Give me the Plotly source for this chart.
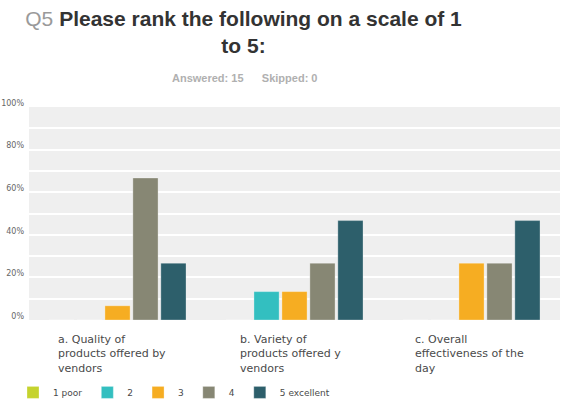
import plotly.graph_objects as go

categories = ["a. Quality of<br>products offered by<br>vendors",
              "b. Variety of<br>products offered y<br>vendors",
              "c. Overall<br>effectiveness of the<br>day"]
series_names = ["1 poor", "2", "3", "4", "5 excellent"]
values = {
    "1 poor":      [0.0, 0.0, 0.0],
    "2":           [0.0, 0.1333, 0.0],
    "3":           [0.0667, 0.1333, 0.2667],
    "4":           [0.6667, 0.2667, 0.2667],
    "5 excellent": [0.2667, 0.4667, 0.4667],
}
colors = ["#c5d32e", "#33bfc0", "#f6ad22", "#878774", "#2d5f6b"]
label_x = [0.051, 0.394, 0.7226]  # paper positions for left-aligned x labels

fig = go.Figure()
for name, col in zip(series_names, colors):
    fig.add_trace(go.Bar(
        x=categories, y=values[name], name=name,
        marker=dict(color=col, line=dict(width=0.6, color="rgba(255,255,255,0.5)")),
    ))

for cat, lx in zip(categories, label_x):
    fig.add_annotation(
        text=cat, xref="paper", yref="paper", x=lx, y=-0.052,
        xanchor="left", yanchor="top", align="left", showarrow=False,
        font=dict(family="DejaVu Sans", size=11, color="#4a4a4a"),
    )

fig.add_annotation(
    text="<b>Answered: 15&nbsp;&nbsp;&nbsp;&nbsp;&nbsp;&nbsp;Skipped: 0</b>",
    xref="paper", yref="paper", x=0.4066, y=1.136, xanchor="center", yanchor="middle",
    showarrow=False, font=dict(family="Liberation Sans", size=11, color="#b0b0b0"),
)

fig.update_layout(
    width=571, height=401,
    margin=dict(l=29, r=11, t=107, b=81, autoexpand=False),
    paper_bgcolor="white", plot_bgcolor="#efefef",
    barmode="group", bargap=0.21, bargroupgap=0.1,
    title=dict(
        text="<span style='color:#9a9a9a;font-weight:normal'>Q5</span> <b>Please rank the following on a scale of 1</b><br><b>to 5:</b>",
        x=0.4265, xanchor="center", y=0.935, yanchor="top",
        font=dict(family="Liberation Sans", size=21, color="#333333"),
    ),
    showlegend=True,
    legend=dict(
        orientation="h", xref="container", x=0.0228, xanchor="left",
        y=-0.34, yanchor="middle",
        font=dict(family="DejaVu Sans", size=9, color="#4a4a4a"),
        itemwidth=30, traceorder="normal",
    ),
    xaxis=dict(showticklabels=False, showgrid=False, zeroline=False, showline=False),
    yaxis=dict(
        range=[0, 1], dtick=0.2, tickformat=".0%", showgrid=True, automargin=False,
        gridcolor="white", gridwidth=1.5, zeroline=False,
        tickfont=dict(family="DejaVu Sans", size=8, color="#666"),
        ticklabelshift=-4, ticklabelstandoff=4,
        minor=dict(dtick=0.1, showgrid=True, gridcolor="white", gridwidth=1.5),
    ),
    font=dict(family="DejaVu Sans"),
)

fig.write_html("out.html")
